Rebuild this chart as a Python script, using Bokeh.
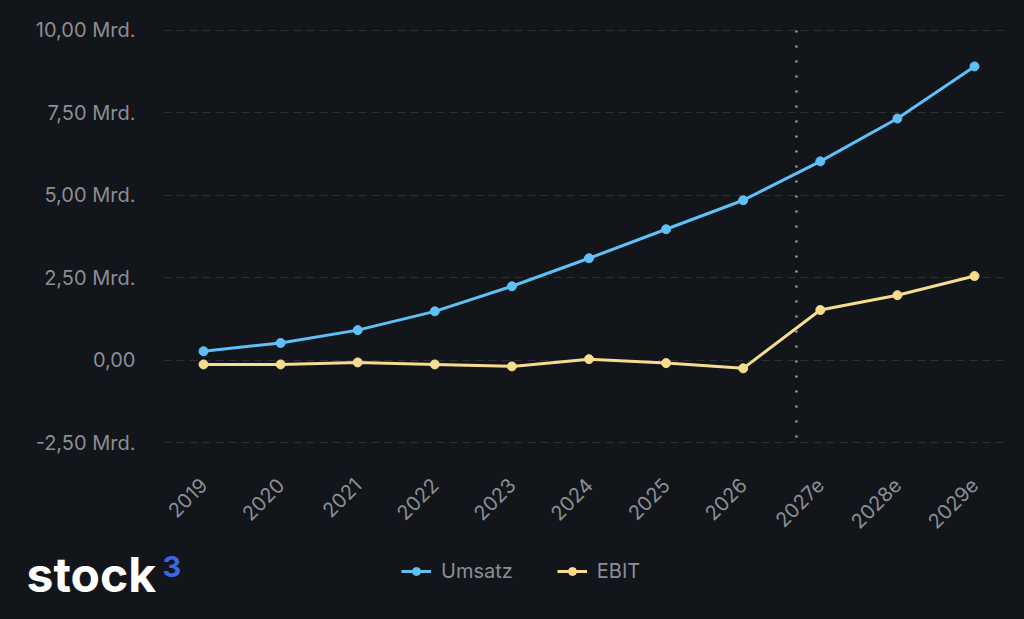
import math
from bokeh.plotting import figure
from bokeh.layouts import column
from bokeh.models import Range1d, FixedTicker, Legend, LegendItem, Label
from bokeh.embed import file_html
from bokeh.resources import INLINE

years = ["2019", "2020", "2021", "2022", "2023", "2024", "2025", "2026", "2027e", "2028e", "2029e"]
umsatz = [0.27, 0.52, 0.91, 1.48, 2.24, 3.09, 3.97, 4.85, 6.03, 7.33, 8.91]
ebit = [-0.13, -0.13, -0.07, -0.13, -0.19, 0.03, -0.09, -0.25, 1.52, 1.97, 2.55]
y_ticks = [-2.5, 0, 2.5, 5, 7.5, 10]
y_tick_labels = ["-2,50 Mrd.", "0,00", "2,50 Mrd.", "5,00 Mrd.", "7,50 Mrd.", "10,00 Mrd."]
series_names = ["Umsatz", "EBIT"]
forecast_marker = 7.69
forecast_marker_span = [-2.35, 10.0]

BG = "#121519"
GRID = "#2c2f35"
TXT = "#8b8e94"
BLUE = "#5ec0f7"
YELLOW = "#f7dc8f"
FONT = "Inter"

xs = list(range(len(years)))

W = 1024
H_MAIN = 540
H_FOOT = 79

p = figure(width=W, height=H_MAIN, output_backend="svg", toolbar_location=None,
           x_range=Range1d(-0.519, 10.428), y_range=Range1d(-2.59, 10.06),
           background_fill_color=BG, border_fill_color=BG,
           min_border_left=163, min_border_right=17, min_border_top=28, min_border_bottom=95,
           styles={"background-color": BG})
p.outline_line_color = None
p.outline_line_alpha = 0
p.frame_align = False

p.xgrid.grid_line_color = None
p.ygrid.grid_line_color = GRID
p.ygrid.grid_line_dash = "8 5"
p.ygrid.grid_line_width = 1

# y axis
p.yaxis.ticker = FixedTicker(ticks=y_ticks)
p.yaxis.major_label_overrides = {t: l for t, l in zip(y_ticks, y_tick_labels)}
p.yaxis.axis_line_color = None
p.yaxis.major_tick_line_color = None
p.yaxis.minor_tick_line_color = None
p.yaxis.major_tick_out = 0
p.yaxis.major_tick_in = 0
p.yaxis.major_label_standoff = 28
p.yaxis.major_label_text_color = TXT
p.yaxis.major_label_text_font = FONT
p.yaxis.major_label_text_font_size = "20px"

# x axis
p.xaxis.ticker = FixedTicker(ticks=xs)
p.xaxis.major_label_overrides = {i: y for i, y in enumerate(years)}
p.xaxis.axis_line_color = None
p.xaxis.major_tick_line_color = None
p.xaxis.minor_tick_line_color = None
p.xaxis.major_tick_out = 0
p.xaxis.major_tick_in = 0
p.xaxis.major_label_standoff = 36
p.xaxis.major_label_orientation = math.pi / 4
p.xaxis.major_label_text_color = TXT
p.xaxis.major_label_text_font = FONT
p.xaxis.major_label_text_font_size = "20px"

# forecast marker
p.segment(x0=[forecast_marker], y0=[forecast_marker_span[0]], x1=[forecast_marker], y1=[forecast_marker_span[1]],
          line_color="#9a9ca0", line_width=2.5, line_dash="2 13")

series = [umsatz, ebit]
colors = [BLUE, YELLOW]
for vals, col in zip(series, colors):
    p.line(xs, vals, line_color=col, line_width=3)
    p.scatter(xs, vals, size=9, fill_color=col, line_color=col)

# footer with legend and logo
f = figure(width=W, height=H_FOOT, output_backend="svg", toolbar_location=None,
           x_range=Range1d(0, W), y_range=Range1d(0, H_FOOT),
           background_fill_color=BG, border_fill_color=BG,
           min_border=0, x_axis_location=None, y_axis_location=None,
           styles={"background-color": BG})
f.outline_line_color = None
f.outline_line_alpha = 0
f.frame_align = False
f.xgrid.grid_line_color = None
f.ygrid.grid_line_color = None

items = []
for name, vals, col in zip(series_names, series, colors):
    lr = f.line(xs, vals, line_color=col, line_width=3, visible=False)
    sr = f.scatter(xs, vals, size=9, fill_color=col, line_color=col, visible=False)
    items.append(LegendItem(label=name, renderers=[lr, sr]))

legend = Legend(items=items, orientation="horizontal", location=(401, 36),
                background_fill_alpha=0, border_line_color=None,
                inactive_fill_alpha=0,
                padding=0, margin=0, spacing=44, label_standoff=10,
                glyph_width=30, glyph_height=20, label_height=20,
                label_text_color=TXT, label_text_font=FONT, label_text_font_size="20px")
f.add_layout(legend, "center")

f.add_layout(Label(x=26, y=45, x_units="screen", y_units="screen", text="stock",
                   text_color="white", text_font=FONT, text_font_size="48px",
                   text_font_style="bold", text_baseline="alphabetic"))
f.add_layout(Label(x=162, y=53, x_units="screen", y_units="screen", text="3",
                   text_color="#3a67e6", text_font=FONT, text_font_size="29px",
                   text_font_style="bold", text_baseline="alphabetic"))

layout = column(p, f, spacing=0, styles={"background-color": BG})
open("out.html", "w").write(file_html(layout, INLINE))
